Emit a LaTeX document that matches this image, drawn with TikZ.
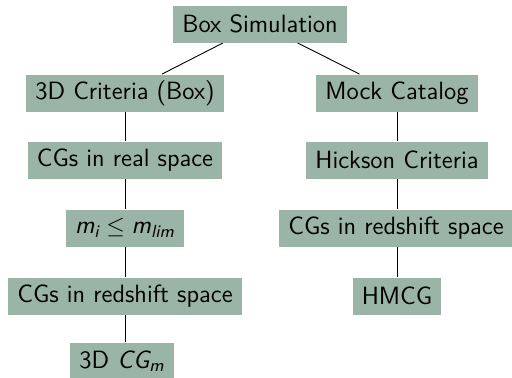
\documentclass[tikz,border=0pt]{standalone}
\usepackage{tikz}
\pgfdeclarelayer{edgelayer}
\pgfdeclarelayer{nodelayer}
\pgfsetlayers{edgelayer,nodelayer,main}
\definecolor{stagegreen}{HTML}{9AB5A8}
\DeclareMathAlphabet{\mathsfit}{\encodingdefault}{\sfdefault}{m}{sl}
\tikzstyle{stage}=[fill=stagegreen,inner xsep=4.6pt,inner ysep=0pt,minimum height=18.5pt,font=\sffamily\fontsize{12.5}{14}\selectfont]
\tikzstyle{link}=[draw=black,line width=0.45pt]

\begin{document}
\begin{tikzpicture}[x=0.5pt,y=-0.5pt]
	\useasboundingbox (0, 0) rectangle (512, 377);
	\begin{pgfonlayer}{nodelayer}
		\node [style=stage] (0) at (260, 24) {Box Simulation};
		\node [style=stage] (1) at (125, 93) {3D Criteria (Box)};
		\node [style=stage] (2) at (125, 160) {CGs in real space};
		\node [style=stage] (3) at (125, 228) {$\mathsfit{m_i} \leq \mathsfit{m_{lim}}$};
		\node [style=stage] (4) at (125, 296) {CGs in redshift space};
		\node [style=stage] (5) at (122, 361) {3D $\mathsfit{CG_m}$};
		\node [style=stage] (6) at (397, 93) {Mock Catalog};
		\node [style=stage] (7) at (397, 160) {Hickson Criteria};
		\node [style=stage] (8) at (396, 228) {CGs in redshift space};
		\node [style=stage] (9) at (397, 296) {HMCG};
	\end{pgfonlayer}
	\begin{pgfonlayer}{edgelayer}
		\draw [style=link] (0) to (1);
		\draw [style=link] (0) to (6);
		\draw [style=link] (1) to (2);
		\draw [style=link] (2) to (3);
		\draw [style=link] (3) to (4);
		\draw [style=link] (4.south) to (4.south |- 5.north);
		\draw [style=link] (6) to (7);
		\draw [style=link] (7) to (8.north -| 7.south);
		\draw [style=link] (8.south -| 9.north) to (9);
	\end{pgfonlayer}
\end{tikzpicture}
\end{document}
